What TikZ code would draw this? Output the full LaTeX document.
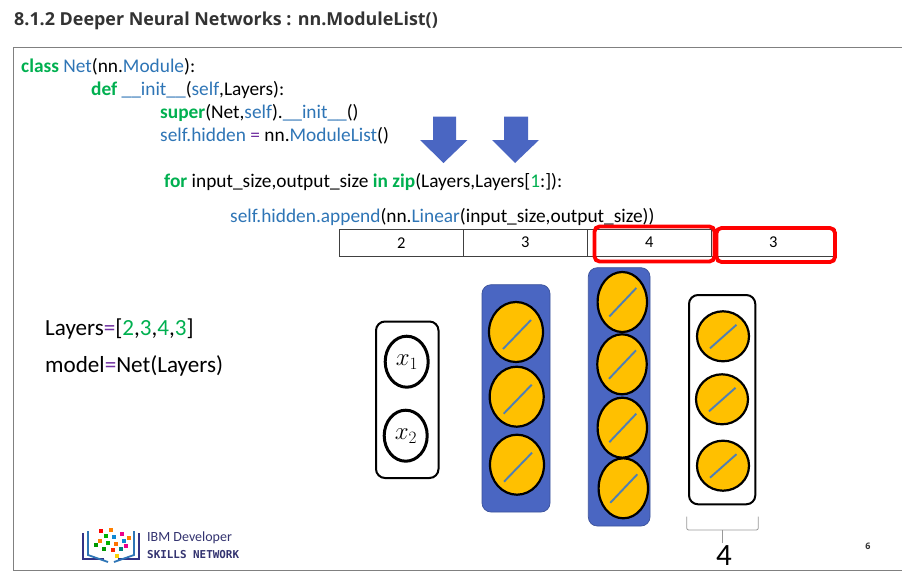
\documentclass[tikz,border=0pt]{standalone}
\usepackage{fontspec}
\setmainfont{Carlito}
\newfontfamily\titlefont{Open Sans}
\newfontfamily\monofont{DejaVu Sans Mono}
\usetikzlibrary{arrows.meta}
\definecolor{kw}{HTML}{00B050}
\definecolor{bl}{HTML}{2E75B6}
\definecolor{pu}{HTML}{7030A0}
\definecolor{blk}{HTML}{4A66C2}
\definecolor{gold}{HTML}{FFC000}
\definecolor{slash}{HTML}{4F7FB5}
\newcommand{\K}[1]{\textcolor{kw}{\textbf{#1}}}
\newcommand{\B}[1]{\textcolor{bl}{#1}}
\newcommand{\Pu}[1]{\textcolor{pu}{#1}}
\tikzset{
  codeline/.style={anchor=base west,inner sep=0pt,font=\fontsize{19.35}{19}\selectfont},
  lefttext/.style={anchor=base west,inner sep=0pt,font=\fontsize{23.1}{23}\selectfont},
  cell/.style={draw=black!75,line width=0.8pt,minimum height=27.5pt,minimum width=124pt,inner sep=0pt,anchor=north west,font=\fontsize{16.5}{16}\selectfont},
  redbox/.style={draw=red,line width=3.8pt,rounded corners=5pt},
  blockarrow/.style={fill=blk,draw=none},
  whitelayer/.style={draw=black,line width=2pt,fill=white,rounded corners=9pt},
  bluelayer/.style={draw=blk!80!black,line width=0.7pt,fill=blk,rounded corners=9pt},
  neuron/.style={draw=black,line width=2.2pt,fill=gold},
  inputn/.style={draw=black,line width=3pt,fill=white},
  slashline/.style={draw=slash,line width=1.9pt},
  logobook/.style={draw=#1,line width=1.8pt}
}
\begin{document}
\begin{tikzpicture}[x=1pt,y=-1pt]
\useasboundingbox (0,0) rectangle (902,573);
\fill[white] (0,0) rectangle (902,573);
% frame
\draw[black!50,line width=1pt] (902,47) -- (13.5,47) -- (13.5,570.5) -- (902,570.5);
% title
\node[anchor=base west,inner sep=0pt,font=\titlefont\bfseries\fontsize{17.9}{18}\selectfont,text=black!80] (title) at (14,25) {8.1.2 Deeper Neural Networks : nn.ModuleList()};
% code
\node[codeline] (c1) at (21,72) {\K{class} \B{Net}(nn.\B{Module}):};
\node[codeline] (c2) at (91,95) {\K{def} \B{\_\_init\_\_}(\B{self},Layers):};
\node[codeline] (c3) at (160,118) {\K{super}(Net,\B{self}).\B{\_\_init\_\_}()};
\node[codeline] (c4) at (160,141) {\B{self.hidden} \Pu{=} nn.\B{ModuleList}()};
\node[codeline] (c5) at (164,187) {\K{for} input\_size,output\_size \K{in} \K{zip}(Layers,Layers[\textcolor{kw}{1}:]):};
\node[codeline] (c6) at (230,222) {\B{self.hidden.append}(nn.\B{Linear}(input\_size,output\_size))};
% block arrows
\fill[blockarrow] (433,116.5) -- (456,116.5) -- (456,140) -- (467.5,140) -- (443.5,163) -- (420,140) -- (433,140) -- cycle;
\fill[blockarrow] (504,116.5) -- (528,116.5) -- (528,140) -- (539,140) -- (515,163) -- (492,140) -- (504,140) -- cycle;
% table
\node[cell] (t1) at (339,228.5) {2};
\node[cell] (t2) at (463,228.5) {3};
\node[cell] (t3) at (587,228.5) {4};
\node[cell] (t4) at (711,228.5) {3};
\draw[redbox] (594.5,226.5) rectangle (714.5,261.5);
\draw[redbox] (716.5,228) rectangle (835,262);
% left text
\node[lefttext] (l1) at (45,335) {Layers\Pu{=}[\textcolor{kw}{2},\textcolor{kw}{3},\textcolor{kw}{4},\textcolor{kw}{3}]};
\node[lefttext] (l2) at (45,372) {model\Pu{=}Net(Layers)};
% input layer
\draw[whitelayer] (376,321.5) rectangle (438.5,478);
\draw[inputn] (406.7,361.7) ellipse (21.5 and 25.5);
\draw[inputn] (405.7,435.7) ellipse (21.5 and 25.5);
\node[inner sep=0pt,font=\fontsize{24}{24}\selectfont] (x1) at (407,362.5) {$x_1$};
\node[inner sep=0pt,font=\fontsize{24}{24}\selectfont] (x2) at (406,436.5) {$x_2$};
% hidden 1
\draw[bluelayer] (482,284.7) rectangle (550,512);
\foreach \cx/\cy in {516/332,516.7/396.7,517/464.7}{
  \draw[neuron] (\cx,\cy) ellipse (27 and 30);
  \draw[slashline] (\cx-13,\cy+17) -- (\cx+15,\cy-12);
}
% hidden 2
\draw[bluelayer] (588.3,267.7) rectangle (650,526);
\foreach \cx/\cy in {622.3/302,622/364.3,622.3/427.7,623.3/488.3}{
  \draw[neuron] (\cx,\cy) ellipse (24.7 and 30);
  \draw[slashline] (\cx-13,\cy+14.5) -- (\cx+14,\cy-14);
}
% output layer
\draw[whitelayer] (689,295) rectangle (755.3,504.3);
\foreach \cx/\cy in {723/336.3,722/399.3,723/465.7}{
  \draw[neuron] (\cx,\cy) ellipse (26 and 25);
  \draw[slashline] (\cx-13,\cy+12) -- (\cx+13.5,\cy-11.5);
}
% brace
\draw[black!40,line width=0.8pt,rounded corners=2pt] (686.7,516.5) -- (686.7,530) -- (758.3,530) -- (758.3,516.5);
\draw[black!40,line width=0.8pt] (722.5,530) -- (722.5,543);
\node[inner sep=0pt,font=\fontsize{31}{31}\selectfont] (four) at (724,556) {4};
% page number
\node[inner sep=0pt,font=\titlefont\bfseries\fontsize{9}{9}\selectfont,text=black!80] (pg) at (868,546) {6};
% logo
\draw[logobook={blue!40!black!80}] (83,533) -- (83,559) -- (104,559);
\draw[logobook={bl}] (88,531) -- (88,555) -- (108,562);
\draw[logobook={blue!40!black!80}] (139,533) -- (139,559) -- (118,559);
\draw[logobook={bl}] (134,531) -- (134,555) -- (114,562);
\foreach \dx/\dy/\dc in {101/531/red,111/530/orange,106/536/green!70!black,114/537/cyan!70!blue,122/534/magenta,100/541/orange,108/543/green!70!black,116/544/orange!90!red,124/541/cyan!70!blue,126/546/magenta,104/549/green!60!black,113/550/red!70!orange,121/549/teal,117/556/yellow!70!orange,96/545/green!60!black,129/538/orange}{
  \fill[\dc] (\dx-2,\dy-2) rectangle (\dx+2,\dy+2);
}
\node[anchor=base west,inner sep=0pt,font=\fontsize{14}{14}\selectfont,text=blue!30!black!80] (ibm) at (147,541.5) {IBM Developer};
\node[anchor=base west,inner sep=0pt,font=\monofont\bfseries\fontsize{10.9}{11}\selectfont,text=blue!30!black!80] (sn) at (147,558) {SKILLS NETWORK};
\end{tikzpicture}
\end{document}
